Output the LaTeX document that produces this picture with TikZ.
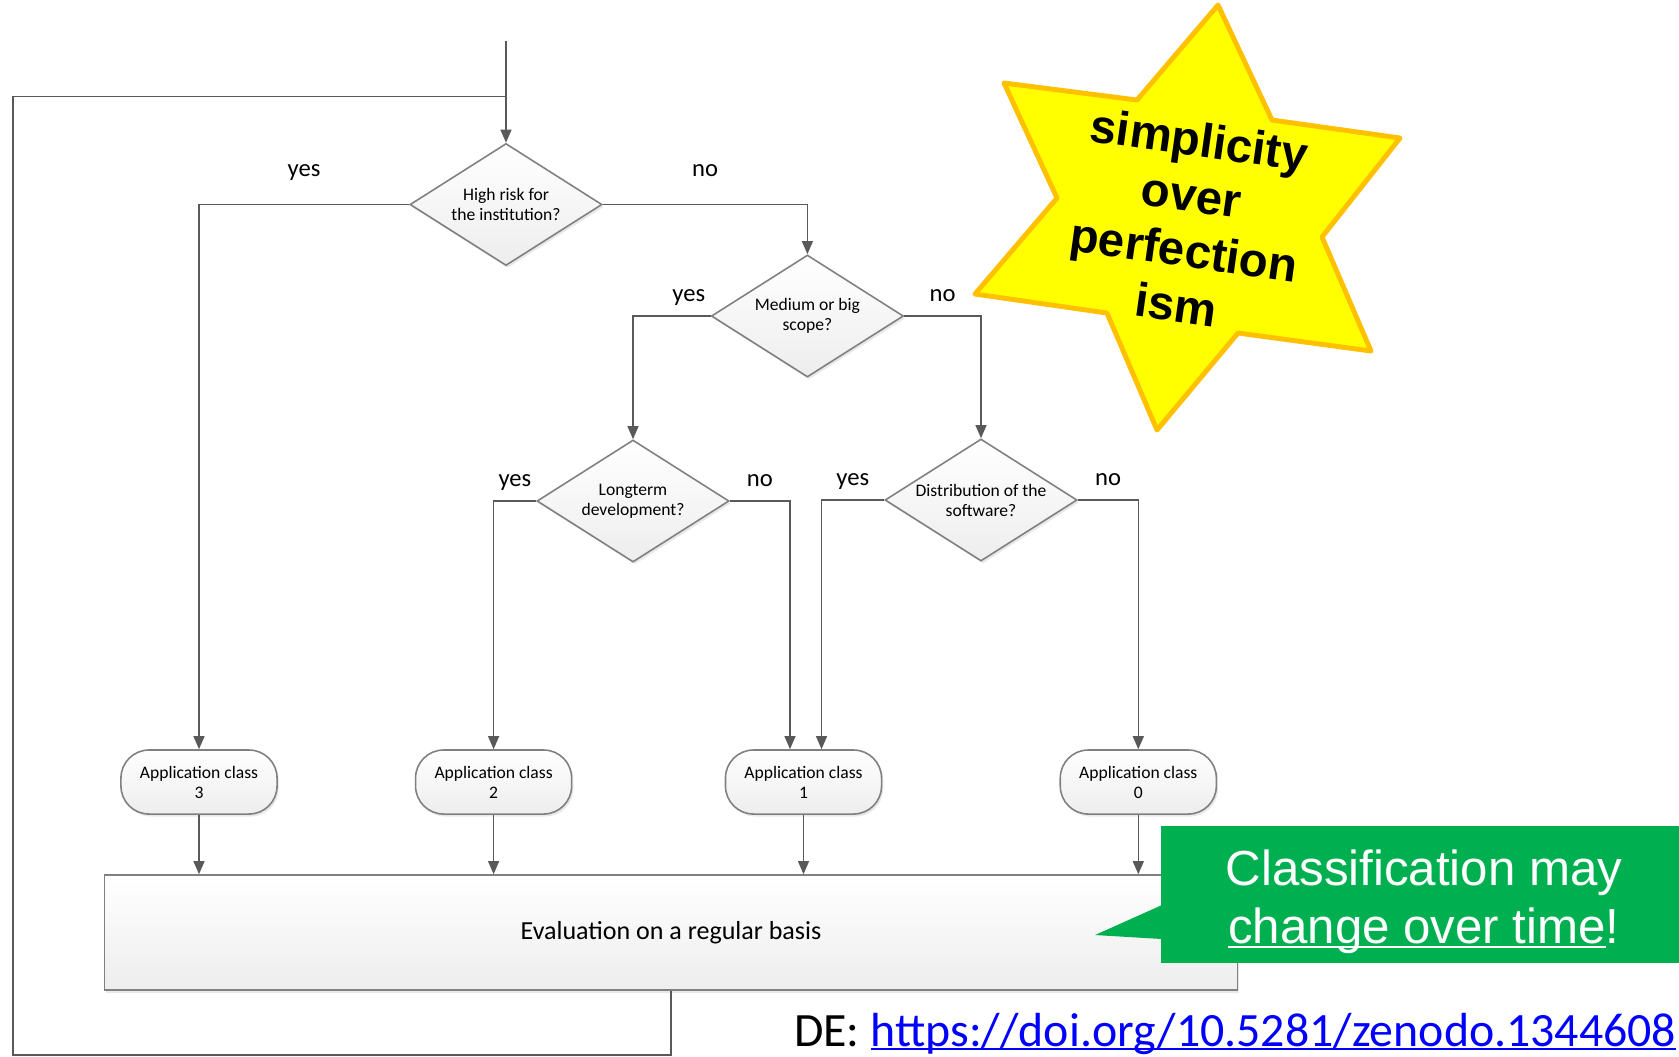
\documentclass[tikz,border=0pt]{standalone}
\usepackage{fontspec}
\setmainfont{Carlito}
\newfontfamily\arialfont{Liberation Sans}
\usetikzlibrary{shapes.geometric,arrows.meta,shadows}
\definecolor{linegray}{RGB}{89,89,89}
\definecolor{framegray}{RGB}{128,128,128}
\definecolor{starfill}{RGB}{255,255,0}
\definecolor{starline}{RGB}{255,192,0}
\definecolor{notegreen}{RGB}{0,176,80}
\definecolor{linkblue}{RGB}{0,0,255}
\newcommand\lineunder[1]{\setbox0\hbox{#1}\rlap{\rule[-1.1pt]{\wd0}{0.6pt}}\box0}
\begin{document}
\begin{tikzpicture}[x=0.01cm, y=-0.01cm,
  question/.style={diamond, draw=framegray, line width=0.45pt, aspect=1.6, inner sep=0pt, minimum width=1.92cm, minimum height=1.22cm, top color=white, bottom color=black!7, drop shadow={opacity=0.18, shadow xshift=0.5pt, shadow yshift=-0.7pt}, align=center, font=\fontsize{5}{5.7}\selectfont},
  appclass/.style={rectangle, rounded corners=0.28cm, draw=framegray, line width=0.45pt, minimum width=1.56cm, minimum height=0.64cm, inner sep=0pt, top color=white, bottom color=black!7, drop shadow={opacity=0.18, shadow xshift=0.5pt, shadow yshift=-0.7pt}, align=center, font=\fontsize{5}{5.7}\selectfont},
  evalbox/.style={rectangle, draw=framegray, line width=0.45pt, minimum width=11.32cm, minimum height=1.15cm, top color=white, bottom color=black!7, drop shadow={opacity=0.18, shadow xshift=0.5pt, shadow yshift=-0.7pt}, font=\fontsize{7.4}{9}\selectfont},
  flow/.style={draw=linegray, line width=0.43pt, -{Triangle[length=3.7pt,width=3.1pt]}},
  link/.style={draw=linegray, line width=0.43pt},
  answer/.style={font=\fontsize{7}{8}\selectfont, inner sep=0pt, text depth=0pt, above=0.137cm},
  starshape/.style={fill=starfill, draw=starline, line width=1.4pt, line join=round},
  startext/.style={rotate=-8, align=center, inner sep=0pt, font=\arialfont\bfseries\fontsize{13.5}{15.8}\selectfont},
  note/.style={fill=notegreen, minimum width=5.18cm, minimum height=1.37cm},
  notetext/.style={text=white, align=center, inner sep=0pt, font=\arialfont\fontsize{14}{16.5}\selectfont}]
	\useasboundingbox (0,0) rectangle (1679,1056);
	\node[question] (R) at (506,204.5) {High risk for\\the institution?};
	\node[question] (M) at (807.4,316) {Medium or big\\scope?};
	\node[question] (L) at (633,501) {Longterm\\development?};
	\node[question] (D) at (981,500) {Distribution of the\\software?};
	\node[appclass] (A3) at (199,782) {Application class\\3};
	\node[appclass] (A2) at (493.6,782) {Application class\\2};
	\node[appclass] (A1) at (803.5,782) {Application class\\1};
	\node[appclass] (A0) at (1138.3,782) {Application class\\0};
	\node[evalbox] (E) at (671,932.5) {Evaluation on a regular basis};
	\coordinate (in) at (506,41);
	\coordinate (J) at (506,96.4);
	\coordinate (B) at (12.8,1055);
	\draw[flow] (in) -- (R);
	\draw[link] (E.south) |- (B) |- (J);
	\draw[flow] (R.west) -| node[answer, pos=0.25, yshift=0.135cm] {yes} (A3);
	\draw[flow] (R.east) -| node[answer, pos=0.25, yshift=0.135cm] {no} (M);
	\draw[flow] (M.west) -| node[answer, pos=0.14] {yes} (L);
	\draw[flow] (M.east) -| node[answer, pos=0.25] {no} (D);
	\draw[flow] (L.west) -| node[answer, pos=0.25] {yes} (A2);
	\draw[flow] (L.east) -| node[answer, pos=0.25] {no} ([xshift=-0.135cm]A1.north);
	\draw[flow] (D.west) -| node[answer, pos=0.25] {yes} ([xshift=0.18cm]A1.north);
	\draw[flow] (D.east) -| node[answer, pos=0.25] {no} (A0);
	\foreach \a in {A3,A2,A1,A0}
		\draw[flow] (\a) -- (\a |- E.north);
	\draw[starshape] (1218,5) -- (1272,120) -- (1400,138) -- (1322,237) -- (1371,351) -- (1238,333) -- (1157,430) -- (1107,313) -- (975,294) -- (1057,198) -- (1004,83) -- (1137,100) -- cycle;
	\node[startext] (S) at (1188,222) {simplicity\\over\\perfection\\ism};
	\node[note] (C) at (1420,894.5) {};
	\node[notetext] (Ct) at (1424,902) {Classification may\\\lineunder{change over time}!};
	\fill[notegreen] (1162,905) -- (1095,935) -- (1162,939) -- cycle;
	\node[anchor=base east, inner sep=0pt, font=\fontsize{13.6}{16}\selectfont] (doi) at (1677,1046) {DE: \textcolor{linkblue}{\lineunder{https://doi.org/10.5281/zenodo.1344608}}};
\end{tikzpicture}
\end{document}
